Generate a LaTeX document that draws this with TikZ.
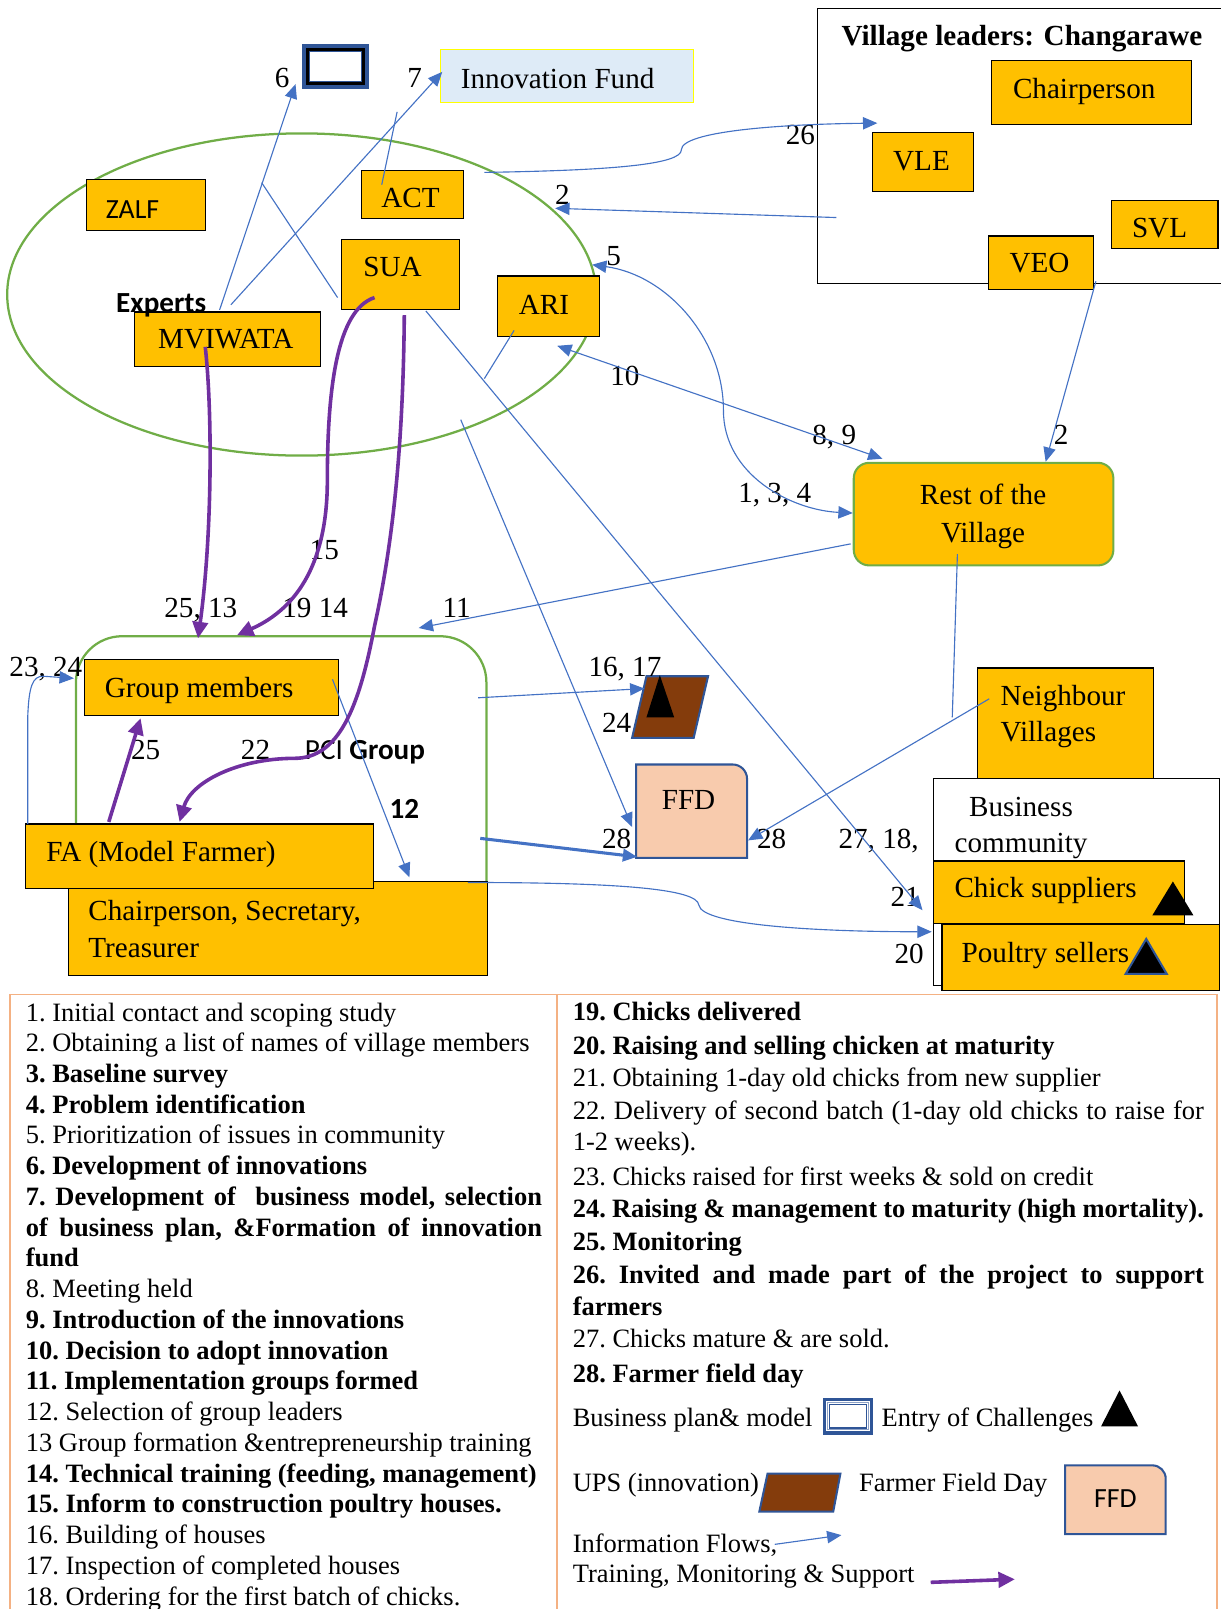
\documentclass[tikz,border=0pt]{standalone}
\usepackage{fontspec}
\setmainfont{Liberation Serif}
\newfontfamily\calfont{Carlito}
\usetikzlibrary{arrows.meta,shapes.geometric}
\definecolor{orangeF}{HTML}{FFC000}
\definecolor{boxgreen}{HTML}{70AD47}
\definecolor{flowblue}{HTML}{4472C4}
\definecolor{trainpurple}{HTML}{7030A0}
\definecolor{navy}{HTML}{2F5597}
\definecolor{brownF}{HTML}{843C0C}
\definecolor{peachF}{HTML}{F8CBAD}
\definecolor{legendpeach}{HTML}{F4B183}
\definecolor{lightblueF}{HTML}{DEEBF7}
\definecolor{yellowB}{HTML}{FFFF00}
\newcommand\dsize{\fontsize{28.4}{36}\selectfont}
\newcommand\lsize{\fontsize{25.8}{30}\selectfont\frenchspacing}

\begin{document}
\begin{tikzpicture}[x=1pt, y=-1pt,
  >={Triangle[length=14pt,width=12pt]},
  spanbox/.style n args={4}{anchor=north west, inner sep=0pt, outer sep=0pt,
    minimum width={(#3)-(#1)}, minimum height={(#4)-(#2)}, at={(#1,#2)}},
  org/.style={draw=black, line width=1.1pt, fill=orangeF},
  lbl/.style={inner sep=0pt, font=\dsize},
  leg/.style={inner sep=0pt, font=\lsize, anchor=base west},
  flow/.style={draw=flowblue, line width=1.1pt, ->},
  flowboth/.style={draw=flowblue, line width=1.1pt, <->},
  plainline/.style={draw=flowblue, line width=1.1pt},
  train/.style={draw=trainpurple, line width=3.5pt, -{Triangle[length=16pt,width=15pt]}}
]
\useasboundingbox (0,0) rectangle (1189,1568);

% ---------- experts ellipse ----------
\node[draw=boxgreen, line width=2.2pt, ellipse, inner sep=0pt,
      minimum width=574pt, minimum height=314pt] (experts) at (294,287) {};

% ---------- business plan icon and innovation fund ----------
\node[spanbox={296}{45}{358}{85}, draw=navy, line width=4pt, fill=white] (bizicon) {};
\draw[line width=3pt] (299.5,48.5) rectangle (354.5,81.5);
\draw[navy, line width=0.8pt] (301.5,50.5) rectangle (352.5,79.5);
\node[spanbox={429}{48}{676}{100}, draw=yellowB, fill=lightblueF, line width=1.2pt] (fund) {};
\node[lbl, anchor=base west] (fundT) at (449,86) {Innovation Fund};

% ---------- village leaders ----------
\node[spanbox={797}{8}{1200}{276}, draw=black, line width=1.1pt] (leaders) {};
\node[lbl, anchor=base west, font=\dsize\bfseries] (leadersT) at (820,44) {Village leaders: Changarawe};
\node[org, spanbox={966}{59}{1161}{121}] (chair) {};
\node[lbl, anchor=base west] (chairT) at (987,96) {Chairperson};
\node[org, spanbox={850}{129}{949}{187}] (vle) {};
\node[lbl, anchor=base] (vleT) at (898,166) {VLE};
\node[org, spanbox={1083}{195}{1187}{242}] (svl) {};
\node[lbl, anchor=base] (svlT) at (1130,231) {SVL};
\node[org, spanbox={963}{230}{1066}{282}] (veo) {};
\node[lbl, anchor=base] (veoT) at (1013,266) {VEO};

% ---------- experts ----------
\node[org, spanbox={84}{175}{200}{225}] (zalf) {};
\node[lbl, anchor=base west, font=\calfont\fontsize{27}{32}\selectfont] (zalfT) at (103,213) {ZALF};
\node[org, spanbox={352}{166}{452}{213}] (act) {};
\node[lbl, anchor=base] (actT) at (400,202) {ACT};
\node[org, spanbox={333}{233}{448}{302}] (sua) {};
\node[lbl, anchor=base west] (suaT) at (354,269) {SUA};
\node[org, spanbox={485}{269}{584}{328}] (ari) {};
\node[lbl, anchor=base] (ariT) at (530,306) {ARI};
\node[org, spanbox={131}{304}{312}{357}] (mviwata) {};
\node[lbl, anchor=base] (mviwataT) at (220,340) {MVIWATA};
\node[lbl, anchor=base west, font=\calfont\bfseries\dsize] (expertsT) at (113,305) {Experts};

% ---------- village side ----------
\node[org, draw=boxgreen, line width=2pt, rounded corners=15pt, spanbox={832}{451}{1085}{551}] (rest) {};
\node[lbl, anchor=base] (restT1) at (958,492) {Rest of the};
\node[lbl, anchor=base] (restT2) at (958,529) {Village};
\node[org, spanbox={953}{651}{1124}{760}] (neigh) {};
\node[lbl, anchor=base west] (neighT1) at (975,688) {Neighbour};
\node[lbl, anchor=base west] (neighT2) at (975,723) {Villages};
\node[spanbox={910}{759}{1188}{960}, draw=black, fill=white, line width=1.1pt] (business) {};
\node[lbl, anchor=base] (businessT1) at (995,796) {Business};
\node[lbl, anchor=base] (businessT2) at (995,831) {community};
\node[org, spanbox={910}{839}{1154}{900}] (chicks) {};
\node[lbl, anchor=base west] (chicksT) at (930,875) {Chick suppliers};
\fill (1123,892) -- (1163,892) -- (1143,859) -- cycle;
\node[org, spanbox={918}{901}{1188}{965}] (sellers) {};
\node[lbl, anchor=base west] (sellersT) at (937,938) {Poultry sellers};
\filldraw[fill=black, draw=navy, line width=2pt] (1097,949) -- (1137,949) -- (1117,915) -- cycle;

% ---------- UPS and FFD ----------
\filldraw[fill=brownF, draw=navy, line width=2pt] (630,659) -- (690,659) -- (676,719) -- (616,719) -- cycle;
\fill (630,699) -- (657,699) -- (643,658) -- cycle;
\filldraw[fill=peachF, draw=navy, line width=2pt]
  (620,836) -- (620,745) -- (714,745) arc[start angle=-90, end angle=0, radius=14] -- (728,836) -- cycle;
\node[lbl, anchor=base] (ffdT) at (671,789) {FFD};

% ---------- PCI group ----------
\node[spanbox={74}{620}{474}{920}, draw=boxgreen, line width=2.2pt, rounded corners=45pt] (pci) {};
\node[org, spanbox={82}{643}{330}{697}] (members) {};
\node[lbl, anchor=base west] (membersT) at (102,680) {Group members};
\node[org, spanbox={67}{859}{475}{951}] (leadersG) {};
\node[lbl, anchor=base west] (leadersGT1) at (86,897) {Chairperson, Secretary,};
\node[lbl, anchor=base west] (leadersGT2) at (86,933) {Treasurer};
\node[org, spanbox={25}{803}{364}{866}] (fa) {};
\node[lbl, anchor=base west] (faT) at (45,840) {FA (Model Farmer)};
\node[lbl, anchor=base west, font=\calfont\dsize] (pciT) at (297,740) {PCI \bfseries Group};

% ---------- step numbers ----------
\node[lbl, anchor=base] (n6) at (275,85) {6};
\node[lbl, anchor=base] (n7) at (404,85) {7};
\node[lbl, anchor=base] (n26) at (780,141) {26};
\node[lbl, anchor=base] (n2a) at (548,199) {2};
\node[lbl, anchor=base] (n5) at (598,259) {5};
\node[lbl, anchor=base] (n10) at (609,376) {10};
\node[lbl, anchor=base] (n89) at (813,433) {8, 9};
\node[lbl, anchor=base] (n134) at (755,490) {1, 3, 4};
\node[lbl, anchor=base] (n2b) at (1034,433) {2};
\node[lbl, anchor=base] (n15) at (316,545) {15};
\node[lbl, anchor=base west] (n2513) at (160,602) {25, 13};
\node[lbl, anchor=base west] (n1914) at (275,602) {19 14};
\node[lbl, anchor=base] (n11) at (445,602) {11};
\node[lbl, anchor=base west] (n2324) at (9,659) {23, 24};
\node[lbl, anchor=base] (n1617) at (609,659) {16, 17};
\node[lbl, anchor=base] (n24) at (601,714) {24};
\node[lbl, anchor=base] (n25) at (142,740) {25};
\node[lbl, anchor=base] (n22) at (249,740) {22};
\node[lbl, anchor=base, font=\calfont\bfseries\dsize] (n12) at (394,798) {12};
\node[lbl, anchor=base] (n28a) at (601,827) {28};
\node[lbl, anchor=base] (n28b) at (752,827) {28};
\node[lbl, anchor=base west] (n2718) at (817,827) {27, 18,};
\node[lbl, anchor=base] (n21) at (882,883) {21};
\node[lbl, anchor=base] (n20) at (886,939) {20};

% ---------- connector end points ----------
\coordinate (c6a) at (214,302);   \coordinate (c6b) at (288,82);
\coordinate (c7a) at (225,297);   \coordinate (c7b) at (431,70);
\coordinate (cActA) at (387,109); \coordinate (cActB) at (372,180);
\coordinate (cSuaA) at (255,178); \coordinate (cSuaB) at (329,290);
\coordinate (cAriA) at (501,322); \coordinate (cAriB) at (472,369);
\coordinate (c26a) at (472,168);  \coordinate (c26m) at (664,146); \coordinate (c26b) at (855,120);
\coordinate (c2a) at (815,212);   \coordinate (c2b) at (541,203);
\coordinate (c5a) at (577,258);   \coordinate (c5m) at (705,400);  \coordinate (c5b) at (831,500);
\coordinate (c10a) at (543,337);  \coordinate (c10b) at (860,447);
\coordinate (cVeoA) at (1068,274); \coordinate (cVeoB) at (1019,450);
\coordinate (c11a) at (829,530);  \coordinate (c11b) at (408,612);
\coordinate (cNbA) at (933,540);  \coordinate (cNbB) at (928,699);
\coordinate (c28a) at (964,681);  \coordinate (c28b) at (729,819);
\coordinate (c27a) at (415,303);  \coordinate (c27b) at (899,887);
\coordinate (c20a) at (456,860);  \coordinate (c20m) at (681,882); \coordinate (c20b) at (908,908);
\coordinate (cFfdA) at (449,409); \coordinate (cFfdB) at (616,806);
\coordinate (cThA) at (468,817);  \coordinate (cThB) at (621,835);
\coordinate (c16a) at (466,680);  \coordinate (c16b) at (628,671);
\coordinate (c12a) at (324,662);  \coordinate (c12b) at (399,855);
\coordinate (c23a) at (27,803);   \coordinate (c23b) at (72,661);
\coordinate (p25a) at (106,801);  \coordinate (p25b) at (137,700);
\coordinate (p13a) at (200,338);  \coordinate (p13b) at (193,622);
\coordinate (p15a) at (365,290);  \coordinate (p15m) at (319,468); \coordinate (p15b) at (231,619);
\coordinate (p22a) at (394,307);  \coordinate (p22m) at (287,739); \coordinate (p22b) at (175,801);

% ---------- information flows ----------
\draw[flow] (c6a) -- (c6b);
\draw[flow] (c7a) -- (c7b);
\draw[plainline] (cActA) -- (cActB);
\draw[plainline] (cSuaA) -- (cSuaB);
\draw[plainline] (cAriA) -- (cAriB);
\draw[flow] (c26a) .. controls (600,166) and (664,160) .. (c26m) .. controls (664,128) and (760,121) .. (c26b);
\draw[flow] (c2a) -- (c2b);
\draw[flowboth] (c5a) .. controls (650,268) and (705,330) .. (c5m) .. controls (705,462) and (770,497) .. (c5b);
\draw[flowboth] (c10a) -- (c10b);
\draw[flow] (cVeoA) -- (cVeoB);
\draw[flow] (c11a) -- (c11b);
\draw[plainline] (cNbA) -- (cNbB);
\draw[flow] (c28a) -- (c28b);
\draw[flow] (c27a) -- (c27b);
\draw[flow] (c20a) .. controls (600,860) and (680,866) .. (c20m) .. controls (684,902) and (800,908) .. (c20b);
\draw[flow] (cFfdA) -- (cFfdB);
\draw[flow, line width=3pt] (cThA) -- (cThB);
\draw[flow] (c16a) -- (c16b);
\draw[flow] (c12a) -- (c12b);
\draw[flow] (c23a) -- (27,700) .. controls (28,668) and (32,659) .. (42,659) -- (c23b);

% ---------- training, monitoring and support ----------
\draw[train] (p25a) -- (p25b);
\draw[train] (p13a) .. controls (207,400) and (207,520) .. (p13b);
\draw[train] (p15a) .. controls (328,302) and (319,380) .. (p15m) .. controls (319,545) and (292,592) .. (p15b);
\draw[train] (p22a) .. controls (393,420) and (385,520) .. (365,610) .. controls (350,690) and (330,739) .. (p22m) .. controls (232,739) and (186,762) .. (p22b);

% ---------- legend ----------
\node[spanbox={10}{969}{1186}{1600}, draw=legendpeach, line width=1.5pt] (legend) {};
\draw[legendpeach, line width=1.5pt] (543,969) -- (543,1600);

\node[leg] (l1) at (25,995) {1. Initial contact and scoping study};
\node[leg] (l2) at (25,1025) {2. Obtaining a list of names of village members};
\node[leg] (l3) at (25,1054.9) {\bfseries 3. Baseline survey};
\node[leg] (l4) at (25,1084.9) {\bfseries 4. Problem identification};
\node[leg] (l5) at (25,1114.8) {5. Prioritization of issues in community};
\node[leg] (l6) at (25,1144.8) {\bfseries 6. Development of innovations};
\node[leg] (l7a) at (25,1174.7) {\bfseries\makebox[503pt][s]{7. Development of\ \ business model, selection}};
\node[leg] (l7b) at (25,1204.7) {\bfseries\makebox[503pt][s]{of business plan, \&Formation of innovation}};
\node[leg] (l7c) at (25,1234.6) {\bfseries fund};
\node[leg] (l8) at (25,1264.6) {8. Meeting held};
\node[leg] (l9) at (25,1294.5) {\bfseries 9. Introduction of the innovations};
\node[leg] (l10) at (25,1324.5) {\bfseries 10. Decision to adopt innovation};
\node[leg] (l11) at (25,1354.4) {\bfseries 11. Implementation groups formed};
\node[leg] (l12) at (25,1384.4) {12. Selection of group leaders};
\node[leg] (l13) at (25,1414.3) {13 Group formation \&entrepreneurship training};
\node[leg] (l14) at (25,1444.3) {\bfseries 14. Technical training (feeding, management)};
\node[leg] (l15) at (25,1474.2) {\bfseries 15. Inform to construction poultry houses.};
\node[leg] (l16) at (25,1504.2) {16. Building of houses};
\node[leg] (l17) at (25,1534.1) {17. Inspection of completed houses};
\node[leg] (l18) at (25,1564.1) {18. Ordering for the first batch of chicks.};

\node[leg] (r19) at (558,994.3) {\bfseries 19. Chicks delivered};
\node[leg] (r20) at (558,1027.5) {\bfseries 20. Raising and selling chicken at maturity};
\node[leg] (r21) at (558,1058.9) {21. Obtaining 1-day old chicks from new supplier};
\node[leg] (r22a) at (558,1091.4) {\makebox[615pt][s]{22. Delivery of second batch (1-day old chicks to raise for}};
\node[leg] (r22b) at (558,1121.6) {1-2 weeks).};
\node[leg] (r23) at (558,1154.9) {23. Chicks raised for first weeks \& sold on credit};
\node[leg] (r24) at (558,1186.2) {\bfseries\makebox[615pt][s]{24. Raising \& management to maturity (high mortality).}};
\node[leg] (r25) at (558,1218.7) {\bfseries 25. Monitoring};
\node[leg] (r26a) at (558,1250.8) {\bfseries\makebox[615pt][s]{26. Invited and made part of the project to support}};
\node[leg] (r26b) at (558,1282.1) {\bfseries farmers};
\node[leg] (r27) at (558,1313.5) {27. Chicks mature \& are sold.};
\node[leg] (r28) at (558,1346.8) {\bfseries 28. Farmer field day};

\node[leg] (kBiz) at (558,1390.6) {Business plan\& model};
\node[spanbox={803.5}{1363.5}{849.5}{1396.5}, draw=navy, line width=3pt, fill=white] (kBizIcon) {};
\draw[navy!55, line width=1pt] (806.5,1366.5) rectangle (846.5,1393.5);
\draw[navy, line width=1.2pt] (808.5,1368.5) rectangle (844.5,1391.5);
\node[leg] (kChal) at (859,1390.6) {Entry of Challenges};
\fill (1073,1390) -- (1109,1390) -- (1091,1355) -- cycle;

\node[leg] (kUps) at (558,1453) {UPS (innovation)};
\filldraw[fill=brownF, draw=navy, line width=2pt] (748,1436) -- (819,1436) -- (812,1473) -- (740,1473) -- cycle;
\node[leg] (kFfd) at (837,1453) {Farmer Field Day};
\filldraw[fill=peachF, draw=navy, line width=2pt]
  (1038,1495) -- (1038,1428) -- (1123,1428) arc[start angle=-90, end angle=0, radius=13] -- (1136,1495) -- cycle;
\node[lbl, anchor=base, font=\calfont\fontsize{27}{32}\selectfont] (kFfdT) at (1087,1469) {FFD};

\node[leg] (kInfo) at (558,1513) {Information Flows,};
\coordinate (kInfoA) at (755,1505); \coordinate (kInfoB) at (820,1496);
\draw[flow] (kInfoA) -- (kInfoB);
\node[leg] (kTrain) at (558,1542.5) {Training, Monitoring \& Support};
\coordinate (kTrainA) at (907,1542); \coordinate (kTrainB) at (989,1539);
\draw[train] (kTrainA) -- (kTrainB);
\end{tikzpicture}
\end{document}
